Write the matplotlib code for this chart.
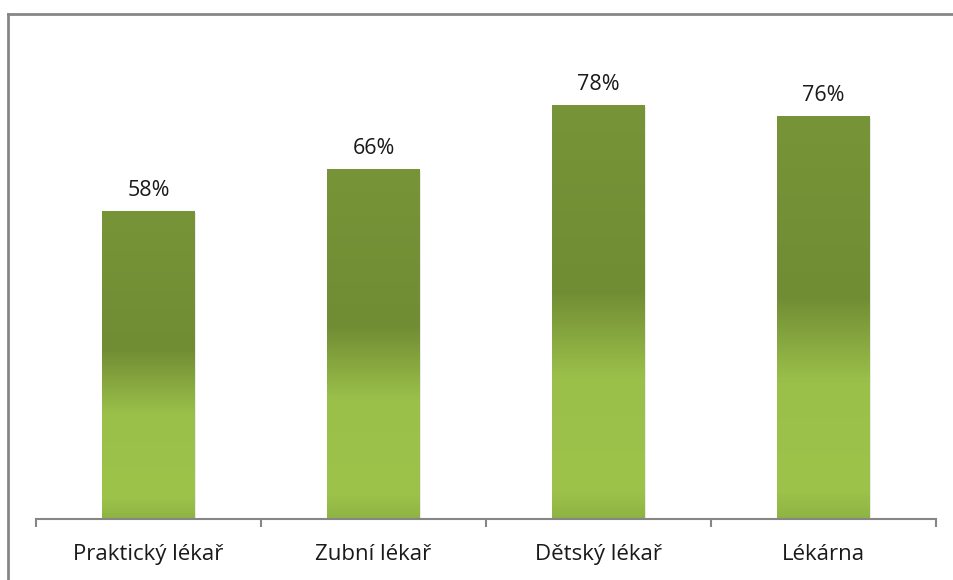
import matplotlib.pyplot as plt
import numpy as np
from matplotlib.colors import LinearSegmentedColormap
from matplotlib.lines import Line2D
from matplotlib.patches import Rectangle

categories = ["Praktický lékař", "Zubní lékař", "Dětský lékař", "Lékárna"]
values = [58, 66, 78, 76]

plt.rcParams['font.family'] = ['Open Sans', 'DejaVu Sans']

# gradient shod s Excelem: tmavá olivová nahoře, světle zelená dole
grad = LinearSegmentedColormap.from_list("bar", [
    (0.0, "#789438"),
    (0.45, "#718D34"),
    (0.66, "#9BC04A"),
    (0.93, "#9DC34B"),
    (1.0, "#8FB343"),
])

fig = plt.figure(figsize=(9.54, 5.80), dpi=100)
ax = fig.add_axes([36 / 954, 61 / 580, 900 / 954, 477 / 580])

x = np.arange(len(categories))
bar_w = 0.41

bars = ax.bar(x, values, width=bar_w, color="none", zorder=2)
for b, v in zip(bars, values):
    x0 = b.get_x()
    # jemný stín
    ax.add_patch(Rectangle((x0 + 0.006, 0), bar_w, v - 0.3, color="#000000", alpha=0.08,
                           zorder=1, lw=0))
    img = np.linspace(0, 1, 256).reshape(-1, 1)
    ax.imshow(img, cmap=grad, aspect="auto", extent=(x0, x0 + bar_w, 0, v),
              origin="upper", zorder=2, interpolation="bilinear")
    ax.text(x0 + bar_w / 2, v + 2.0, f"{v}%", ha="center", va="bottom",
            fontsize=15.5, color="#1a1a1a")

ax.set_xlim(-0.5, len(categories) - 0.5)
ax.set_ylim(0, 90)

for s in ["top", "right", "left"]:
    ax.spines[s].set_visible(False)
ax.spines["bottom"].set_color("#868686")
ax.spines["bottom"].set_linewidth(1.5)
ax.set_yticks([])

ax.set_xticks(x)
ax.set_xticklabels(categories, fontsize=16, color="#1a1a1a")
ax.tick_params(axis="x", which="major", length=0, pad=18)
ax.set_xticks(np.arange(len(categories) + 1) - 0.5, minor=True)
ax.tick_params(axis="x", which="minor", length=6, width=1.5, color="#868686", direction="out")

# rámeček grafu (jen levá a horní hrana je vidět)
fig.add_artist(Line2D([8 / 954, 8 / 954], [0, 1 - 13.5 / 580], transform=fig.transFigure,
                      color="#868686", lw=2))
fig.add_artist(Line2D([8 / 954, 1], [1 - 13.5 / 580, 1 - 13.5 / 580], transform=fig.transFigure,
                      color="#868686", lw=2))

fig.savefig("out.png", dpi=100)
